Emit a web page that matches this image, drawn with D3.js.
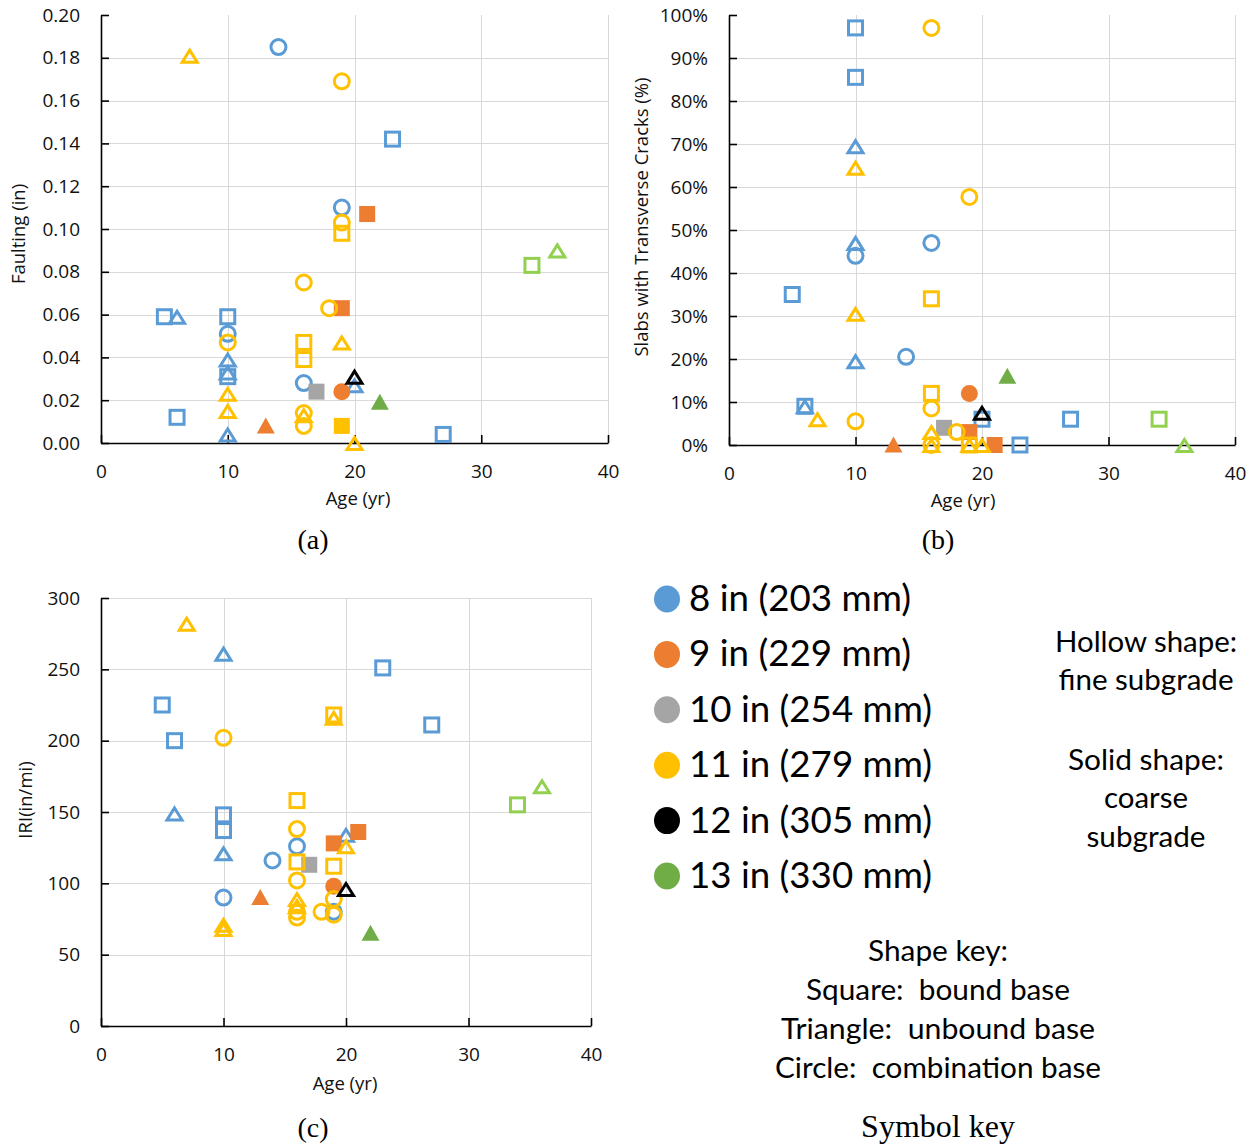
<!DOCTYPE html>
<html>
<head>
<meta charset="utf-8">
<script src="https://cdn.jsdelivr.net/npm/d3@7"></script>
<style>
  html, body { margin: 0; padding: 0; background: #fff; }
  svg { display: block; }
</style>
</head>
<body>
<svg id="fig" width="1258" height="1147"></svg>
<script>
// ---- categories ----
const thicknessesIn = [8, 9, 10, 11, 12, 13];
const thicknessLabels = ["8 in (203 mm)", "9 in (229 mm)", "10 in (254 mm)",
                         "11 in (279 mm)", "12 in (305 mm)", "13 in (330 mm)"];
const baseTypes = ["bound", "unbound", "combination"];   // square, triangle, circle
const subgradeTypes = ["fine", "coarse"];                 // hollow, solid

// ---- tick labels ----
const ageTicks = [0, 10, 20, 30, 40];
const faultTicks = [0, 0.02, 0.04, 0.06, 0.08, 0.10, 0.12, 0.14, 0.16, 0.18, 0.20];
const crackTicks = [0, 10, 20, 30, 40, 50, 60, 70, 80, 90, 100];
const iriTicks = [0, 50, 100, 150, 200, 250, 300];

// ---- series values: [age (yr), value, slab thickness (in), base, subgrade] ----
const faultingData = [
  [14, 0.185, 8, "combination", "fine"],
  [23, 0.142, 8, "bound", "fine"],
  [19, 0.110, 8, "combination", "fine"],
  [5, 0.059, 8, "bound", "fine"],
  [6, 0.059, 8, "unbound", "fine"],
  [10, 0.059, 8, "bound", "fine"],
  [10, 0.051, 8, "combination", "fine"],
  [10, 0.039, 8, "unbound", "fine"],
  [10, 0.033, 8, "unbound", "fine"],
  [10, 0.031, 8, "bound", "fine"],
  [16, 0.028, 8, "combination", "fine"],
  [20, 0.027, 8, "unbound", "fine"],
  [6, 0.012, 8, "bound", "fine"],
  [10, 0.004, 8, "unbound", "fine"],
  [27, 0.004, 8, "bound", "fine"],
  [21, 0.107, 9, "bound", "coarse"],
  [19, 0.063, 9, "bound", "coarse"],
  [19, 0.024, 9, "combination", "coarse"],
  [13, 0.008, 9, "unbound", "coarse"],
  [17, 0.024, 10, "bound", "coarse"],
  [7, 0.181, 11, "unbound", "fine"],
  [19, 0.169, 11, "combination", "fine"],
  [19, 0.103, 11, "combination", "fine"],
  [19, 0.098, 11, "bound", "fine"],
  [16, 0.075, 11, "combination", "fine"],
  [18, 0.063, 11, "combination", "fine"],
  [10, 0.047, 11, "combination", "fine"],
  [16, 0.047, 11, "bound", "fine"],
  [19, 0.047, 11, "unbound", "fine"],
  [16, 0.039, 11, "bound", "fine"],
  [10, 0.023, 11, "unbound", "fine"],
  [10, 0.015, 11, "unbound", "fine"],
  [16, 0.014, 11, "combination", "fine"],
  [16, 0.013, 11, "unbound", "fine"],
  [16, 0.008, 11, "combination", "fine"],
  [19, 0.008, 11, "bound", "coarse"],
  [20, 0.000, 11, "unbound", "fine"],
  [20, 0.031, 12, "unbound", "fine"],
  [22, 0.019, 13, "unbound", "coarse"],
  [34, 0.083, 13, "bound", "fine"],
  [36, 0.090, 13, "unbound", "fine"]
];

const crackingData = [
  [10, 97, 8, "bound", "fine"],
  [10, 85.5, 8, "bound", "fine"],
  [10, 69.5, 8, "unbound", "fine"],
  [10, 47, 8, "unbound", "fine"],
  [16, 47, 8, "combination", "fine"],
  [10, 44, 8, "combination", "fine"],
  [5, 35, 8, "bound", "fine"],
  [14, 20.5, 8, "combination", "fine"],
  [10, 19.5, 8, "unbound", "fine"],
  [6, 9, 8, "bound", "fine"],
  [6, 9, 8, "unbound", "fine"],
  [20, 6, 8, "bound", "fine"],
  [27, 6, 8, "bound", "fine"],
  [23, 0, 8, "bound", "fine"],
  [19, 12, 9, "combination", "coarse"],
  [19, 3, 9, "bound", "coarse"],
  [21, 0, 9, "bound", "coarse"],
  [13, 0, 9, "unbound", "coarse"],
  [17, 4, 10, "bound", "coarse"],
  [16, 97, 11, "combination", "fine"],
  [10, 64.5, 11, "unbound", "fine"],
  [19, 57.7, 11, "combination", "fine"],
  [16, 34, 11, "bound", "fine"],
  [10, 30.5, 11, "unbound", "fine"],
  [16, 12, 11, "bound", "fine"],
  [16, 8.5, 11, "combination", "fine"],
  [7, 6, 11, "unbound", "fine"],
  [10, 5.5, 11, "combination", "fine"],
  [18, 3, 11, "combination", "fine"],
  [16, 3, 11, "unbound", "fine"],
  [16, 0, 11, "combination", "fine"],
  [16, 0, 11, "unbound", "fine"],
  [19, 0, 11, "bound", "fine"],
  [19, 0, 11, "unbound", "fine"],
  [20, 0, 11, "unbound", "fine"],
  [20, 7.5, 12, "unbound", "fine"],
  [22, 16, 13, "unbound", "coarse"],
  [34, 6, 13, "bound", "fine"],
  [36, 0, 13, "unbound", "fine"]
];

const iriData = [
  [10, 261, 8, "unbound", "fine"],
  [23, 251, 8, "bound", "fine"],
  [5, 225, 8, "bound", "fine"],
  [27, 211, 8, "bound", "fine"],
  [6, 200, 8, "bound", "fine"],
  [6, 149, 8, "unbound", "fine"],
  [10, 148, 8, "bound", "fine"],
  [10, 137, 8, "bound", "fine"],
  [20, 134, 8, "unbound", "fine"],
  [16, 126, 8, "combination", "fine"],
  [10, 121, 8, "unbound", "fine"],
  [14, 116, 8, "combination", "fine"],
  [10, 90, 8, "combination", "fine"],
  [19, 80, 8, "combination", "fine"],
  [21, 136, 9, "bound", "coarse"],
  [19, 128, 9, "bound", "coarse"],
  [19, 98, 9, "combination", "coarse"],
  [13, 90, 9, "unbound", "coarse"],
  [17, 113, 10, "bound", "coarse"],
  [7, 282, 11, "unbound", "fine"],
  [19, 218, 11, "bound", "fine"],
  [19, 216, 11, "unbound", "fine"],
  [10, 202, 11, "combination", "fine"],
  [16, 158, 11, "bound", "fine"],
  [16, 138, 11, "combination", "fine"],
  [20, 126, 11, "unbound", "fine"],
  [16, 115, 11, "bound", "fine"],
  [19, 112, 11, "bound", "fine"],
  [16, 102, 11, "combination", "fine"],
  [16, 89, 11, "unbound", "fine"],
  [19, 89, 11, "combination", "fine"],
  [16, 84, 11, "unbound", "fine"],
  [16, 80, 11, "combination", "fine"],
  [18, 80, 11, "combination", "fine"],
  [19, 78, 11, "combination", "fine"],
  [16, 76, 11, "combination", "fine"],
  [10, 71, 11, "unbound", "fine"],
  [10, 68, 11, "unbound", "fine"],
  [20, 96, 12, "unbound", "fine"],
  [22, 65, 13, "unbound", "coarse"],
  [34, 155, 13, "bound", "fine"],
  [36, 168, 13, "unbound", "fine"]
];

// ---- styling ----
const thicknessColor = d3.scaleOrdinal()
  .domain(thicknessesIn)
  .range(["#5B9BD5", "#ED7D31", "#A5A5A5", "#FFC000", "#000000", "#70AD47"]);
const hollowGreen = "#92D050";
function markColor(d) {
  if (d[2] === 13 && d[4] === "fine") return hollowGreen;
  return thicknessColor(d[2]);
}

const axisFont = "'Open Sans', 'Noto Sans', sans-serif";
const keyFont = "Lato, 'Open Sans', sans-serif";
const serifFont = "'Liberation Serif', 'DejaVu Serif', serif";

const svg = d3.select("#fig");

function drawMarker(g, d) {
  const c = markColor(d);
  const solid = d[4] === "coarse";
  if (d[3] === "bound") {
    const s = solid ? 16 : 14;
    g.append("rect").attr("x", -s / 2).attr("y", -s / 2).attr("width", s).attr("height", s)
      .attr("fill", solid ? c : "none").attr("stroke", solid ? "none" : c).attr("stroke-width", 3);
  } else if (d[3] === "unbound") {
    const p = solid ? "M0,-8.5L9,7.5L-9,7.5Z" : "M0,-5.5L7.5,6.5L-7.5,6.5Z";
    g.append("path").attr("d", p)
      .attr("fill", solid ? c : "none").attr("stroke", solid ? "none" : c)
      .attr("stroke-width", 3).attr("stroke-linejoin", "miter").attr("stroke-miterlimit", 3);
  } else {
    g.append("circle").attr("r", solid ? 8.5 : 7.5)
      .attr("fill", solid ? c : "none").attr("stroke", solid ? "none" : c).attr("stroke-width", 3);
  }
}

function drawPanel(cfg) {
  const x = d3.scaleLinear().domain([0, 40]).range([cfg.left, cfg.right]);
  const y = d3.scaleLinear().domain([cfg.yTicks[0], cfg.yTicks[cfg.yTicks.length - 1]])
    .range([cfg.bottom, cfg.top]);
  const g = svg.append("g");

  // gridlines
  const hTicks = cfg.yTicks.slice(1, cfg.topGrid ? cfg.yTicks.length : cfg.yTicks.length - 1);
  g.append("g").selectAll("line").data(hTicks).join("line")
    .attr("x1", cfg.left).attr("x2", cfg.right)
    .attr("y1", d => Math.round(y(d)) + 0.5).attr("y2", d => Math.round(y(d)) + 0.5)
    .attr("stroke", "#D9D9D9").attr("stroke-width", 1);
  g.append("g").selectAll("line").data(ageTicks.slice(1)).join("line")
    .attr("x1", d => Math.round(x(d)) + 0.5).attr("x2", d => Math.round(x(d)) + 0.5)
    .attr("y1", cfg.bottom).attr("y2", cfg.top)
    .attr("stroke", "#D9D9D9").attr("stroke-width", 1);

  // axes with inward tick marks
  const yAxis = d3.axisLeft(y).tickValues(cfg.yTicks).tickFormat(cfg.fmt)
    .tickSizeInner(-8).tickSizeOuter(0).tickPadding(21);
  const xAxis = d3.axisBottom(x).tickValues(ageTicks).tickFormat(d3.format("d"))
    .tickSizeInner(-8).tickSizeOuter(0).tickPadding(24);

  const ya = g.append("g").attr("transform", `translate(${cfg.left},0)`).call(yAxis);
  const xa = g.append("g").attr("transform", `translate(0,${cfg.bottom})`).call(xAxis);
  [ya, xa].forEach(a => {
    a.attr("font-family", axisFont).attr("font-size", 19);
    a.selectAll("path.domain").attr("stroke", "#000").attr("stroke-width", 1.6);
    a.selectAll(".tick line").attr("stroke", "#000").attr("stroke-width", 1.6);
    a.selectAll(".tick text").attr("fill", "#111");
  });
  xa.selectAll(".tick text").attr("dy", "0.6em");

  // axis titles
  g.append("text")
    .attr("transform", `translate(${cfg.yTitleX},${cfg.yTitleY}) rotate(-90)`)
    .attr("text-anchor", "middle").attr("dominant-baseline", "middle")
    .attr("font-family", axisFont).attr("font-size", 18.5).attr("fill", "#111")
    .text(cfg.yTitle);
  g.append("text")
    .attr("x", cfg.xTitleX).attr("y", cfg.xTitleY)
    .attr("text-anchor", "middle")
    .attr("font-family", axisFont).attr("font-size", 18.5).attr("fill", "#111")
    .text("Age (yr)");

  // markers, drawn series by series so thicker slabs sit on top
  const ordered = thicknessesIn.flatMap(t => cfg.data.filter(d => d[2] === t));
  g.append("g").selectAll("g").data(ordered).join("g")
    .attr("transform", d => `translate(${x(d[0])},${y(d[1])})`)
    .each(function (d) { drawMarker(d3.select(this), d); });

  // caption
  svg.append("text").attr("x", cfg.capX).attr("y", cfg.capY)
    .attr("text-anchor", "middle").attr("font-family", serifFont).attr("font-size", 28)
    .attr("fill", "#000").text(cfg.caption);
}

drawPanel({
  data: faultingData, yTicks: faultTicks, fmt: d3.format(".2f"),
  left: 101, right: 608, top: 15, bottom: 443, topGrid: false,
  yTitle: "Faulting (in)", yTitleX: 20, yTitleY: 234,
  xTitleX: 358, xTitleY: 505, caption: "(a)", capX: 313, capY: 549
});

drawPanel({
  data: crackingData, yTicks: crackTicks, fmt: d => d + "%",
  left: 729, right: 1235, top: 15, bottom: 445, topGrid: false,
  yTitle: "Slabs with Transverse Cracks (%)", yTitleX: 643, yTitleY: 217,
  xTitleX: 963, xTitleY: 507, caption: "(b)", capX: 938, capY: 549
});

drawPanel({
  data: iriData, yTicks: iriTicks, fmt: d3.format("d"),
  left: 101, right: 591, top: 598, bottom: 1026, topGrid: true,
  yTitle: "IRI(in/mi)", yTitleX: 27, yTitleY: 800,
  xTitleX: 345, xTitleY: 1090, caption: "(c)", capX: 313, capY: 1137
});

// ---- symbol key: slab thickness colours ----
const legendWidths = [222, 222, 243, 243, 243, 243];
const legendY = d3.scalePoint().domain(thicknessesIn).range([599, 876]);
const legend = svg.append("g");
legend.selectAll("ellipse").data(thicknessesIn).join("ellipse")
  .attr("cx", 667).attr("cy", d => legendY(d)).attr("rx", 13).attr("ry", 13.5)
  .attr("fill", d => thicknessColor(d));
legend.selectAll("text").data(thicknessesIn).join("text")
  .attr("x", 689).attr("y", d => legendY(d) + 12)
  .attr("font-family", keyFont).attr("font-size", 36).attr("fill", "#000")
  .attr("textLength", (d, i) => legendWidths[i]).attr("lengthAdjust", "spacingAndGlyphs")
  .text((d, i) => thicknessLabels[i]);

// ---- fill and shape explanations: [text, baseline, width] ----
const fillNotes = [
  ["Hollow shape:", 652, 182], ["fine subgrade", 690, 175],
  ["Solid shape:", 770, 156], ["coarse", 808, 84], ["subgrade", 847, 119]
];
svg.append("g").selectAll("text").data(fillNotes).join("text")
  .attr("x", 1146).attr("y", d => d[1]).attr("text-anchor", "middle")
  .attr("font-family", keyFont).attr("font-size", 29).attr("fill", "#000")
  .attr("textLength", d => d[2]).attr("lengthAdjust", "spacingAndGlyphs")
  .text(d => d[0]);

const shapeNotes = [
  ["Shape key:", 961, 140], ["Square:\u00a0 bound base", 1000, 264],
  ["Triangle:\u00a0 unbound base", 1039, 314], ["Circle:\u00a0 combination base", 1078, 326]
];
svg.append("g").selectAll("text").data(shapeNotes).join("text")
  .attr("x", 938).attr("y", d => d[1]).attr("text-anchor", "middle")
  .attr("font-family", keyFont).attr("font-size", 29).attr("fill", "#000")
  .attr("textLength", d => d[2]).attr("lengthAdjust", "spacingAndGlyphs")
  .text(d => d[0]);

svg.append("text").attr("x", 938).attr("y", 1137).attr("text-anchor", "middle")
  .attr("font-family", serifFont).attr("font-size", 32).attr("fill", "#000")
  .text("Symbol key");
</script>
</body>
</html>
